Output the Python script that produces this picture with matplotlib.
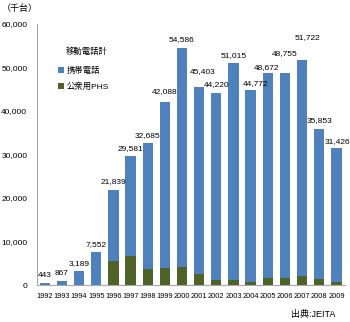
import matplotlib
matplotlib.use('Agg')
import matplotlib.pyplot as plt
import numpy as np

plt.rcParams['font.family'] = ['Liberation Sans', 'Noto Sans CJK JP']

years = [str(y) for y in range(1992, 2010)]
total = [443, 867, 3189, 7552, 21839, 29581, 32685, 42088, 54586, 45403,
         44220, 51015, 44772, 48672, 48755, 51722, 35853, 31426]
phs = [0, 0, 0, 0, 5450, 6770, 3600, 4000, 4100, 2450,
       1100, 1100, 600, 1700, 1600, 2100, 1300, 700]
keitai = [t - p for t, p in zip(total, phs)]

# label nudges (pixels) so the values don't collide
dx = [0, 0, 0, 0, 0, 0, 0, 0, 0, 4, 0, 0, 5, -1, 0, 5, 0, 1]
dy = [8, 8, 8, 8, 8, 8, 7, 10, 8, 16, 8, 8, 7, 6, 19, 22, 8, 7]

blue = '#4F81BD'
green = '#4F6228'

fig = plt.figure(figsize=(3.5, 3.22), dpi=100)
ax = fig.add_axes([37/350, 1-285/322, 308/350, 261/322])

x = np.arange(len(years))
ax.bar(x, phs, width=0.6, color=green, label='公衆用PHS')
ax.bar(x, keitai, width=0.6, bottom=phs, color=blue, label='携帯電話')

for xi, t, ox, oy in zip(x, total, dx, dy):
    ax.annotate(f'{t:,}', (xi, t), xytext=(ox, oy), textcoords='offset pixels',
                ha='center', va='center', fontsize=6)

ax.set_ylim(0, 60000)
ax.set_xlim(-0.45, 17.5)
ax.set_yticks(range(0, 60001, 10000))
ax.set_yticklabels([f'{v:,}' for v in range(0, 60001, 10000)], fontsize=6)
ax.set_xticks(x)
ax.set_xticklabels(years, fontsize=5.3)
ax.tick_params(length=0, pad=6)
ax.tick_params(axis='y', pad=7)
for s in ['top', 'right']:
    ax.spines[s].set_visible(False)
ax.spines['left'].set_color('#A6A6A6')
ax.spines['bottom'].set_color('#A6A6A6')

h, l = ax.get_legend_handles_labels()
ax.legend(h[::-1], l[::-1], loc='upper left', bbox_to_anchor=(0.058, 0.85),
          frameon=False, fontsize=6, handlelength=0.7, handleheight=0.7,
          handletextpad=0.3, labelspacing=0.95, borderaxespad=0)
fig.text(66/350, 1-52/322, '移動電話計', fontsize=6, va='center')

fig.text(2/350, 1-8/322, '（千台）', fontsize=6.5, va='center')
fig.text(335/350, 1-315/322, '出典:JEITA', fontsize=6.5, ha='right', va='center')

fig.savefig('out.png', dpi=100)
